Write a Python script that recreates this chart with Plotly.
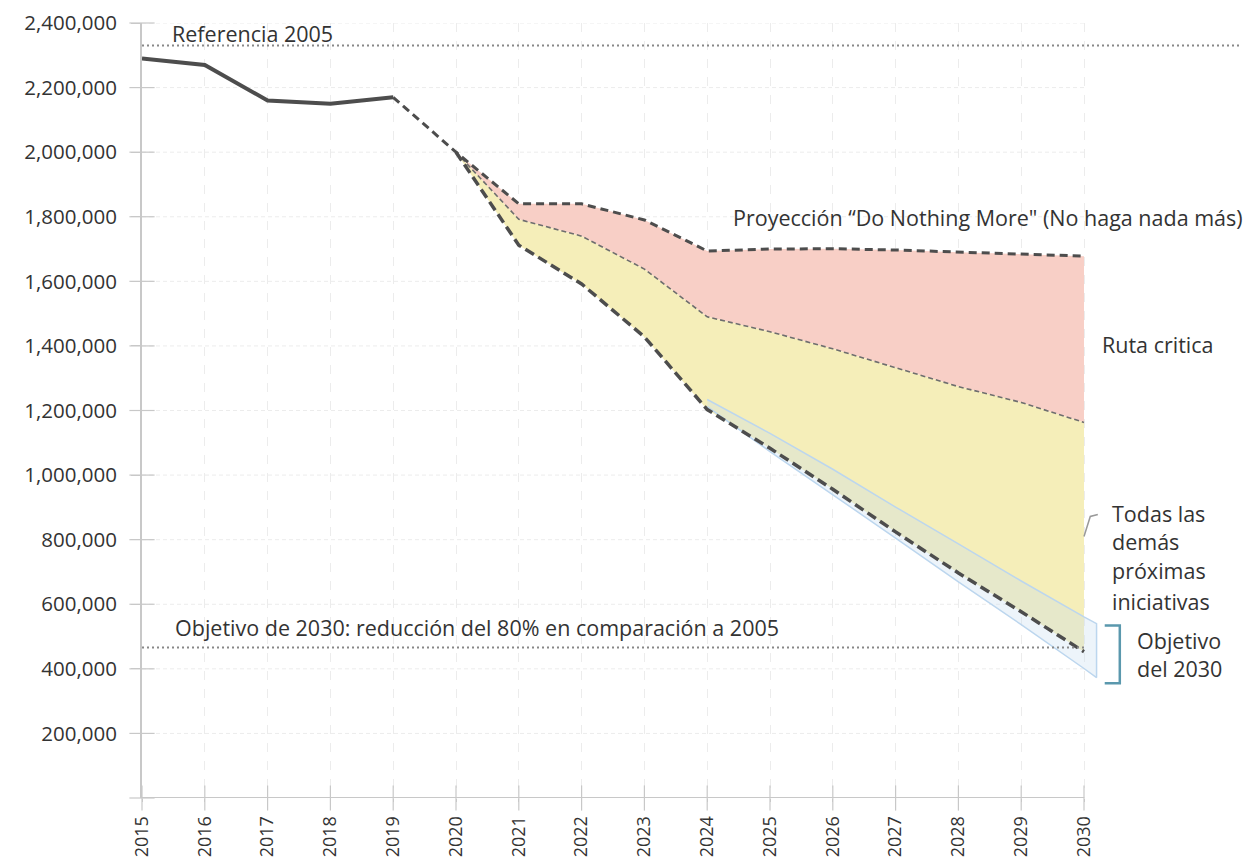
import plotly.graph_objects as go

# ---------------- data ----------------
years_hist = [2015, 2016, 2017, 2018, 2019]
hist_vals = [2290000, 2270000, 2160000, 2150000, 2170000]

years_proj = [2020, 2021, 2022, 2023, 2024, 2025, 2026, 2027, 2028, 2029, 2030]
do_nothing = [2000000, 1840000, 1840000, 1790000, 1694000, 1700000, 1701000, 1697000, 1690000, 1684000, 1678000]
critical_path = [2000000, 1792000, 1740000, 1638000, 1490000, 1444000, 1391000, 1333000, 1274000, 1225000, 1163000]
all_initiatives = [2000000, 1712000, 1592000, 1428000, 1203000, 1083000, 956000, 824000, 697000, 577000, 453000]

band_x = [2024, 2025, 2026, 2027, 2028, 2029, 2030, 2030.2]
band_upper = [1234000, 1129000, 1018000, 901000, 787000, 672000, 561000, 540000]
band_lower = [1212000, 1073000, 938000, 805000, 669000, 537000, 401000, 373000]

ref_2005 = 2330000
target_2030 = 466000

x_ticks = list(range(2015, 2031))
y_ticks = [200000, 400000, 600000, 800000, 1000000, 1200000, 1400000, 1600000,
           1800000, 2000000, 2200000, 2400000]

# ---------------- style ----------------
FONT = "Open Sans"
TXT = "#333333"
DARK = "#4d4d4d"
AXIS = "#c8c8c8"
GRID = "#ececec"
x_end = 2015 + 1098 / (942 / 15)  # plot area continues past 2030 for labels

fig = go.Figure()

# red area (Do Nothing More -> critical path)
fig.add_trace(go.Scatter(
    x=years_proj + years_proj[::-1],
    y=do_nothing + critical_path[::-1],
    fill="toself", fillcolor="#f8cfc6", line=dict(width=0),
    mode="lines", hoverinfo="skip"))
# yellow area (critical path -> all initiatives)
fig.add_trace(go.Scatter(
    x=years_proj + years_proj[::-1],
    y=critical_path + all_initiatives[::-1],
    fill="toself", fillcolor="#f5eeb9", line=dict(width=0),
    mode="lines", hoverinfo="skip"))
# blue target band
fig.add_trace(go.Scatter(
    x=band_x + band_x[::-1],
    y=band_upper + band_lower[::-1],
    fill="toself", fillcolor="rgba(198,220,240,0.32)",
    line=dict(color="#bcd6ee", width=1.5),
    mode="lines", hoverinfo="skip", cliponaxis=False))

# critical path thin dashed line
fig.add_trace(go.Scatter(
    x=years_proj, y=critical_path, mode="lines",
    line=dict(color="#6e6e6e", width=1.6, dash="5px,3px")))
# do nothing more
fig.add_trace(go.Scatter(
    x=[years_hist[-1]] + years_proj, y=[hist_vals[-1]] + do_nothing, mode="lines",
    line=dict(color=DARK, width=3, dash="8px,5px")))
# all initiatives
fig.add_trace(go.Scatter(
    x=years_proj, y=all_initiatives, mode="lines",
    line=dict(color=DARK, width=3.5, dash="10px,5px")))
# historical
fig.add_trace(go.Scatter(
    x=years_hist, y=hist_vals, mode="lines",
    line=dict(color=DARK, width=4)))

# crossing tick marks
fig.add_trace(go.Scatter(
    x=x_ticks, y=[0] * len(x_ticks), mode="markers", cliponaxis=False,
    marker=dict(symbol="line-ns", size=18, line=dict(color=AXIS, width=1.2)),
    hoverinfo="skip"))
fig.add_trace(go.Scatter(
    x=[2015] * (len(y_ticks) + 1), y=[0] + y_ticks, mode="markers", cliponaxis=False,
    marker=dict(symbol="line-ew", size=18, line=dict(color=AXIS, width=1.2)),
    hoverinfo="skip"))

shapes = []
# horizontal grid lines, only up to 2030
for v in y_ticks:
    shapes.append(dict(type="line", xref="x", yref="y", x0=2015, x1=2030, y0=v, y1=v,
                       line=dict(color=GRID, width=1, dash="4px,3px"), layer="below"))
# x axis line up to 2030
shapes.append(dict(type="line", xref="x", yref="y", x0=2015, x1=2030, y0=0, y1=0,
                   line=dict(color=AXIS, width=2)))
# reference lines
shapes.append(dict(type="line", xref="paper", yref="y", x0=0, x1=1, y0=ref_2005, y1=ref_2005,
                   line=dict(color="#888888", width=2, dash="2px,3px")))
shapes.append(dict(type="line", xref="x", yref="y", x0=2015, x1=2030, y0=target_2030, y1=target_2030,
                   line=dict(color="#888888", width=2, dash="2px,3px")))
# bracket for "Objetivo del 2030"
shapes.append(dict(type="path", xref="x", yref="y",
                   path="M 2030.33 534000 L 2030.57 534000 L 2030.57 355000 L 2030.33 355000",
                   line=dict(color="#5a98ad", width=2.5)))
# leader line for "Todas las demás..."
shapes.append(dict(type="path", xref="x", yref="y",
                   path="M 2030.0 810000 L 2030.1 872000 L 2030.22 878000",
                   line=dict(color="#999999", width=1.5)))

def ann(text, x, y, size=21.5, anchor="left"):
    return dict(text=text, x=x, y=y, xref="x", yref="y", showarrow=False,
                xanchor=anchor, yanchor="middle", font=dict(family=FONT, size=size, color=TXT))

annotations = [
    ann("Referencia 2005", 2015.45, 2369000),
    ann("Objetivo de 2030: reducción del 80% en comparación a 2005", 2015.49, 527500),
    ann("Proyección “Do Nothing More\" (No haga nada más)", 2024.38, 1798500),
    ann("Ruta critica", 2030.25, 1403600),
    ann("Todas las", 2030.41, 882000),
    ann("demás", 2030.41, 793000),
    ann("próximas", 2030.41, 703000),
    ann("iniciativas", 2030.41, 610000),
    ann("Objetivo", 2030.81, 487000),
    ann("del 2030", 2030.81, 401000),
]

# page body has an 8px margin: size figure so that it fits the 1258x867 window
fig.update_layout(
    width=1242, height=851,
    margin=dict(l=134, r=10, t=15, b=61, autoexpand=False),
    plot_bgcolor="white", paper_bgcolor="white",
    showlegend=False,
    font=dict(family=FONT, color=TXT),
    shapes=shapes, annotations=annotations,
    xaxis=dict(range=[2015, x_end], tickvals=x_ticks, ticktext=[str(y) for y in x_ticks],
               tickangle=-90, tickfont=dict(size=18, color=TXT), ticklabelstandoff=7,
               ticklabeloverflow="allow", automargin=False,
               showgrid=True, gridcolor=GRID, griddash="dash", gridwidth=1,
               showline=False, zeroline=False, ticks="outside", ticklen=3, tickcolor=AXIS),
    yaxis=dict(range=[0, 2400000], tickvals=y_ticks, tickformat=",",
               tickfont=dict(size=20.5, color=TXT), ticklabelstandoff=10,
               ticklabeloverflow="allow", automargin=False,
               showgrid=False, showline=True, linecolor=AXIS, linewidth=2,
               zeroline=False, ticks="outside", ticklen=9, tickcolor=AXIS),
)

fig.write_html("out.html")
